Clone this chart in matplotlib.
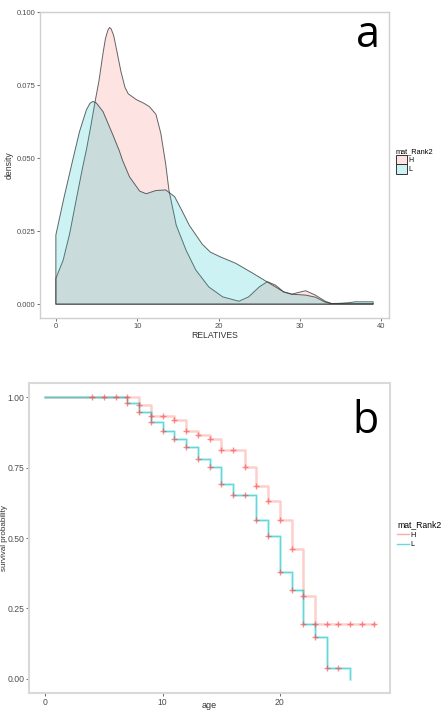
import matplotlib
matplotlib.use("Agg")
import matplotlib.pyplot as plt
import numpy as np
from matplotlib.patches import Patch
from matplotlib.lines import Line2D

plt.rcParams['font.family'] = ['Liberation Sans', 'DejaVu Sans']

# ---- panel a: density of RELATIVES by mat_Rank2 ----
h_x = [0, 0.9, 1.7, 2.5, 3.3, 3.75, 4.3, 4.8, 5.3, 5.8, 6.1, 6.4, 6.6, 6.8, 7.1, 7.4, 8.0,
       8.5, 8.9, 9.9, 10.8, 11.5, 12.3, 12.9, 13.5, 13.9, 14.8, 16.0, 17.2, 18.8, 20.5,
       22.5, 23.7, 25.0, 26.0, 27.0, 28.0, 29.0, 29.8, 30.7, 31.9, 33.1, 33.9, 36.0, 39.0]
h_dens = [0.0088, 0.0151, 0.0242, 0.0357, 0.0470, 0.0528, 0.0610, 0.0690, 0.0765, 0.0860,
          0.0910, 0.0938, 0.0947, 0.0942, 0.0920, 0.0880, 0.0796, 0.0742, 0.0720, 0.0700,
          0.0688, 0.0676, 0.0650, 0.0585, 0.0480, 0.0390, 0.0270, 0.0185, 0.0117, 0.0059,
          0.0025, 0.0010, 0.0025, 0.0059, 0.0077, 0.0065, 0.0042, 0.0034, 0.0040, 0.0046,
          0.0031, 0.0010, 0.0002, 0.0002, 0.0002]
l_x = [0, 1.0, 2.0, 2.9, 3.75, 4.2, 4.57, 5.0, 5.8, 7.0, 7.8, 8.2, 9.05, 10.3, 11.1, 12.3,
       13.5, 14.6, 15.5, 16.4, 18.0, 19.0, 20.2, 22.1, 24.2, 25.8, 27.0, 28.0, 29.0, 30.7,
       31.9, 33.1, 33.9, 35.0, 36.0, 36.8, 39.0]
l_dens = [0.0237, 0.0365, 0.0485, 0.0590, 0.0665, 0.0688, 0.0694, 0.0688, 0.0659, 0.0580,
          0.0525, 0.0492, 0.0436, 0.0387, 0.0378, 0.0389, 0.0391, 0.0368, 0.0320, 0.0270,
          0.0205, 0.0178, 0.0162, 0.0140, 0.0106, 0.0079, 0.0059, 0.0042, 0.0034, 0.0031,
          0.0024, 0.0007, 0.0002, 0.0003, 0.0005, 0.0008, 0.0008]

# ---- panel b: survival by age ----
h_age = [0, 8, 9, 11, 12, 13, 14, 15, 17, 18, 19, 20, 21, 22, 23, 28]
h_surv = [1.0, 0.973, 0.934, 0.920, 0.881, 0.866, 0.851, 0.813, 0.751, 0.686, 0.630,
          0.565, 0.461, 0.293, 0.195, 0.195]
l_age = [0, 7, 8, 9, 10, 11, 12, 13, 14, 15, 16, 18, 19, 20, 21, 22, 23, 24, 26]
l_surv = [1.0, 0.979, 0.946, 0.911, 0.881, 0.851, 0.823, 0.781, 0.751, 0.693, 0.652,
          0.565, 0.506, 0.379, 0.317, 0.195, 0.148, 0.037, 0.0]
h_censor = list(range(4, 29))
l_censor = list(range(7, 26))

groups = ['H', 'L']
col_h = '#F8766D'
col_l = '#00BFC4'

fig = plt.figure(figsize=(4.42, 7.11), dpi=100)

def style_axes(ax, tick_size):
    for s in ax.spines.values():
        s.set_color('#CFCFCF')
        s.set_linewidth(1.0)
    ax.tick_params(length=2, width=0.6, color='#555555', labelsize=tick_size,
                   labelcolor='#4D4D4D', pad=1.5)

# panel a
ax1 = fig.add_axes([0.0905, 0.5527, 0.7896, 0.4304])
for xs, ys, c in [(h_x, h_dens, col_h), (l_x, l_dens, col_l)]:
    px = [xs[0]] + list(xs) + [xs[-1]]
    py = [0] + list(ys) + [0]
    ax1.fill(px, py, facecolor=matplotlib.colors.to_rgba(c, 0.2),
             edgecolor=(0.2, 0.2, 0.2, 0.75), linewidth=0.7, joinstyle='round')
ax1.set_xlim(-1.95, 40.95)
ax1.set_ylim(-0.00475, 0.0999)
ax1.set_xticks([0, 10, 20, 30, 40])
ax1.set_yticks([0, 0.025, 0.05, 0.075, 0.1])
ax1.set_yticklabels(['0.000', '0.025', '0.050', '0.075', '0.100'])
style_axes(ax1, 5.5)
ax1.set_xlabel('RELATIVES', fontsize=6.2, color='#333333', labelpad=0.5)
ax1.set_ylabel('density', fontsize=6.2, color='#333333')
ax1.yaxis.set_label_coords(-0.077, 0.5)
fig.text(368 / 442, 1 - 46.7 / 711, 'a', fontsize=31, family='Open Sans',
         ha='center', va='baseline')

handles_a = [Patch(facecolor=matplotlib.colors.to_rgba(c, 0.2), edgecolor='#333333',
                   linewidth=0.7) for c in (col_h, col_l)]
fig.legend(handles_a, groups, title='mat_Rank2', loc='upper left',
           bbox_to_anchor=(396 / 442, 1 - 148 / 711), frameon=False,
           fontsize=5.0, title_fontsize=5.3, handlelength=1.6, handleheight=1.7,
           handletextpad=0.15, labelspacing=0.0, borderaxespad=0, borderpad=0,
           alignment='left')

# panel b
ax2 = fig.add_axes([0.0656, 0.0253, 0.8168, 0.436])
ax2.step(h_age, h_surv, where='post', color=col_h, alpha=0.35, linewidth=1.8)
ax2.step(l_age, l_surv, where='post', color=col_l, alpha=0.22, linewidth=2.2)
ax2.step(l_age, l_surv, where='post', color=col_l, alpha=0.5, linewidth=0.8)
for ages, surv, cens in [(h_age, h_surv, h_censor), (l_age, l_surv, l_censor)]:
    idx = np.searchsorted(ages, cens, side='right') - 1
    ax2.plot(cens, np.array(surv)[idx], linestyle='none', marker='+', markersize=4,
             markeredgewidth=1.0, color='#FF4040', alpha=0.6)
ax2.set_xlim(-1.4, 29.4)
ax2.set_ylim(-0.05, 1.05)
ax2.set_xticks([0, 10, 20])
ax2.set_yticks([0, 0.25, 0.5, 0.75, 1.0])
ax2.set_yticklabels(['0.00', '0.25', '0.50', '0.75', '1.00'])
style_axes(ax2, 6.2)
for s in ax2.spines.values():
    s.set_color('#D9D9D9')
    s.set_linewidth(1.5)
ax2.set_xlabel('age', fontsize=6.5, color='#333333')
ax2.xaxis.set_label_coords(0.5, -0.026)
ax2.set_ylabel('survival probability', fontsize=5.8, color='#333333')
ax2.yaxis.set_label_coords(-0.058, 0.5)
fig.text(366 / 442, 1 - 433 / 711, 'b', fontsize=31, family='Open Sans',
         ha='center', va='baseline')

handles_b = [Line2D([], [], color=c, alpha=0.6, linewidth=1.0) for c in (col_h, col_l)]
fig.legend(handles_b, groups, title='mat_Rank2', loc='upper left',
           bbox_to_anchor=(397 / 442, 1 - 520 / 711), frameon=False,
           fontsize=5.2, title_fontsize=6.2, handlelength=1.6, handletextpad=0.2,
           labelspacing=0.35, borderaxespad=0, borderpad=0, alignment='left')

fig.savefig('out.png', dpi=100)
